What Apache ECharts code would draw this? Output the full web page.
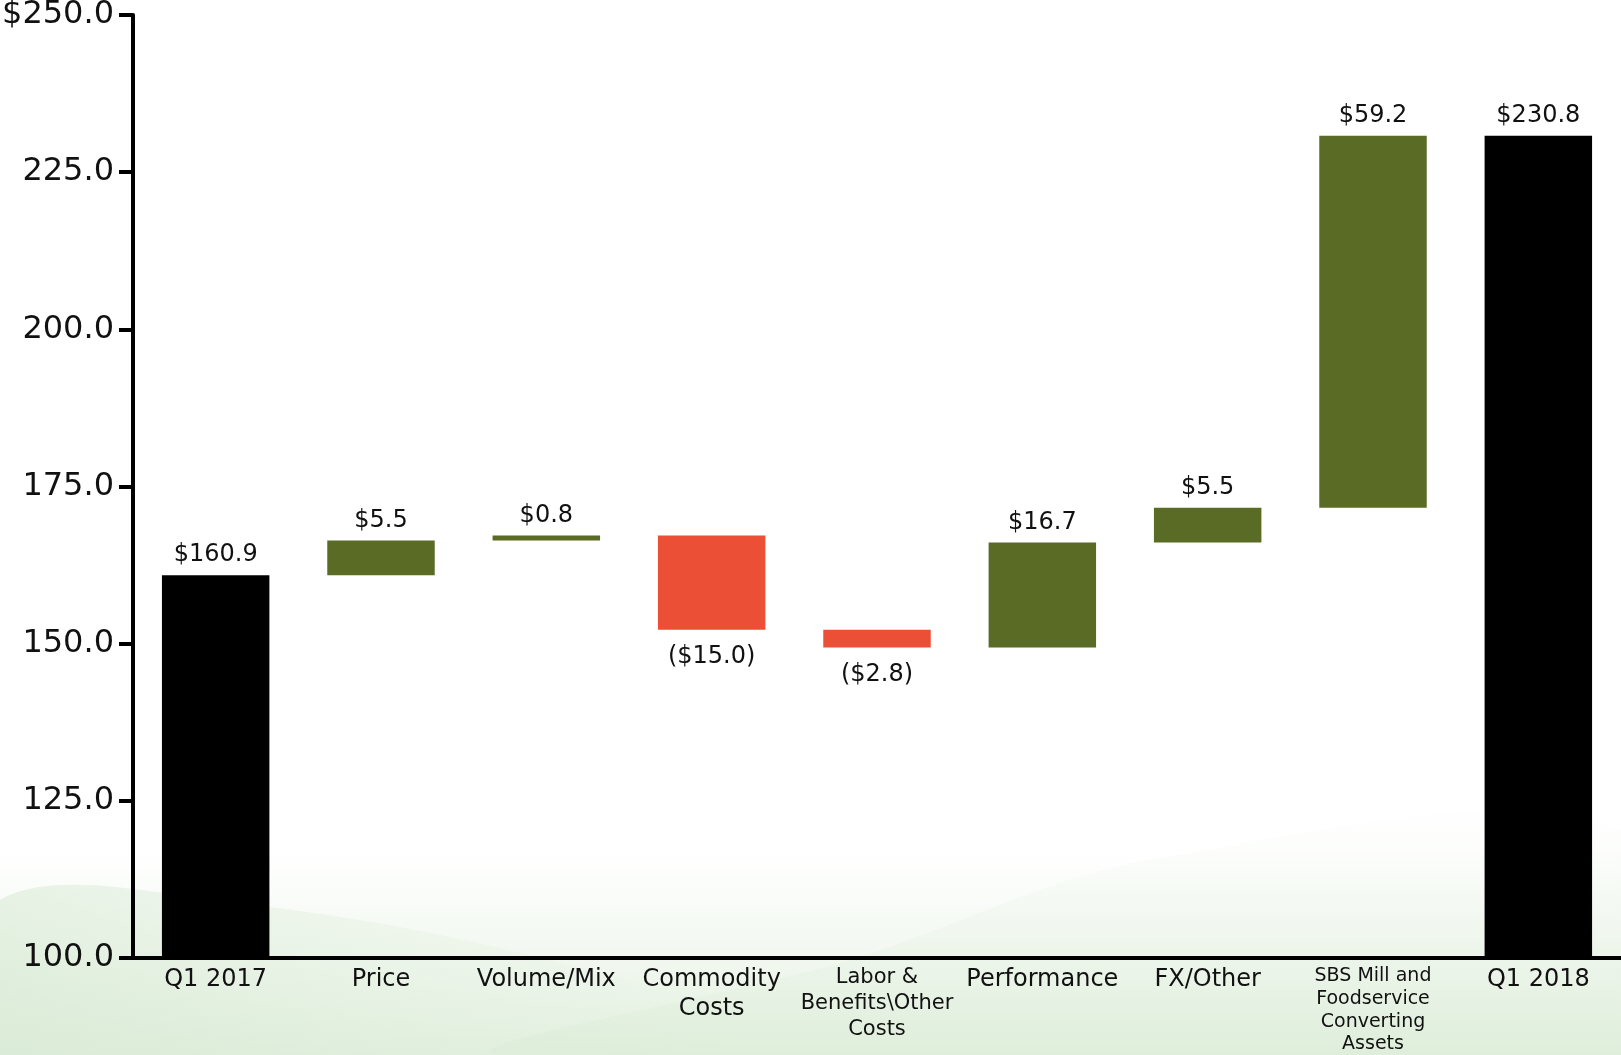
<!DOCTYPE html>
<html>
<head>
<meta charset="utf-8">
<script src="https://cdn.jsdelivr.net/npm/echarts@6/dist/echarts.min.js"></script>
<style>
  html, body { margin: 0; padding: 0; background: #fff; }
  #chart { width: 1621px; height: 1055px; }
</style>
</head>
<body>
<div id="chart"></div>
<script>
var categories = ['Q1 2017', 'Price', 'Volume/Mix', 'Commodity\nCosts', 'Labor &\nBenefits\\Other\nCosts',
  'Performance', 'FX/Other', 'SBS Mill and\nFoodservice\nConverting\nAssets', 'Q1 2018'];
var startTotal = 160.9;
var endTotal = 230.8;
var changes = [null, 5.5, 0.8, -15.0, -2.8, 16.7, 5.5, 59.2, null];
var yTicks = [100, 125, 150, 175, 200, 225, 250];

// build the invisible base + up/down/total series from the changes
var base = [], ups = [], downs = [], totals = [];
var running = startTotal;
changes.forEach(function(c, i) {
  if (i === 0) { base.push('-'); ups.push('-'); downs.push('-'); totals.push(startTotal); return; }
  if (i === changes.length - 1) { base.push('-'); ups.push('-'); downs.push('-'); totals.push(endTotal); return; }
  if (c >= 0) {
    base.push(running); ups.push(c); downs.push('-');
    running += c;
  } else {
    running += c;
    base.push(running); ups.push('-'); downs.push(-c);
  }
  totals.push('-');
});

var FONT = 'DejaVu Sans';
var GREEN = '#596b25';
var RED = '#eb4f36';

function grad(x2, y2, stops) {
  return { type: 'linear', x: 0, y: 0, x2: x2, y2: y2,
    colorStops: stops.map(function(s) { return { offset: s[0], color: s[1] }; }) };
}

var chart = echarts.init(document.getElementById('chart'));

var option = {
  backgroundColor: '#ffffff',
  animation: false,
  graphic: [
    { type: 'rect', z: -10, silent: true,
      shape: { x: 0, y: 850, width: 1621, height: 205 },
      style: { fill: grad(0, 1, [[0, 'rgba(215,233,210,0)'], [1, 'rgba(208,230,203,0.6)']]) } },
    { type: 'polygon', z: -9, silent: true,
      shape: { points: [[0, 900], [250, 905], [550, 960], [850, 1055], [0, 1055]], smooth: 0.35 },
      style: { fill: grad(1, 0, [[0, 'rgba(205,228,200,0.45)'], [1, 'rgba(225,238,220,0)']]) } },
    { type: 'polygon', z: -9, silent: true,
      shape: { points: [[500, 1055], [850, 960], [1150, 860], [1621, 830], [1621, 1055]], smooth: 0.35 },
      style: { fill: grad(0, 1, [[0, 'rgba(225,238,220,0.05)'], [1, 'rgba(212,232,207,0.35)']]) } }
  ],
  grid: { left: 133, right: 0, top: 15, bottom: 97, containLabel: false, outerBoundsMode: 'none' },
  xAxis: {
    type: 'category',
    data: categories,
    axisLine: { lineStyle: { color: '#000', width: 4 } },
    axisTick: { show: false },
    axisLabel: {
      interval: 0,
      margin: 7,
      color: '#111',
      fontFamily: FONT,
      fontSize: 24,
      lineHeight: 29,
      formatter: function(v) {
        var lines = v.split('\n');
        var style = lines.length >= 4 ? 's' : (lines.length === 3 ? 'm' : 'n');
        return lines.map(function(l) { return '{' + style + '|' + l + '}'; }).join('\n');
      },
      rich: {
        n: { fontFamily: FONT, fontSize: 24, lineHeight: 29, color: '#111' },
        m: { fontFamily: FONT, fontSize: 21, lineHeight: 26, color: '#111' },
        s: { fontFamily: FONT, fontSize: 19, lineHeight: 22.7, color: '#111' }
      }
    }
  },
  yAxis: {
    type: 'value',
    min: yTicks[0],
    max: yTicks[yTicks.length - 1],
    interval: 25,
    splitLine: { show: false },
    axisLine: { show: true, lineStyle: { color: '#000', width: 4 } },
    axisTick: { show: true, length: 14, lineStyle: { color: '#000', width: 4 } },
    axisLabel: {
      margin: 19,
      color: '#111',
      fontFamily: FONT,
      fontSize: 32,
      formatter: function(v) {
        return (v === 250 ? '$' : '') + v.toFixed(1);
      }
    }
  },
  series: [
    { name: 'base', type: 'bar', stack: 'w', barWidth: '65%',
      itemStyle: { color: 'transparent' }, data: base, silent: true },
    { name: 'up', type: 'bar', stack: 'w', barWidth: '65%',
      itemStyle: { color: GREEN }, data: ups,
      label: { show: true, position: 'top', distance: 8, fontFamily: FONT, fontSize: 24, color: '#111',
        formatter: function(p) { return '$' + p.value.toFixed(1); } } },
    { name: 'down', type: 'bar', stack: 'w', barWidth: '65%',
      itemStyle: { color: RED }, data: downs,
      label: { show: true, position: 'bottom', distance: 15, fontFamily: FONT, fontSize: 24, color: '#111',
        formatter: function(p) { return '($' + p.value.toFixed(1) + ')'; } } },
    { name: 'total', type: 'bar', stack: 'w', barWidth: '65%',
      itemStyle: { color: '#000' }, data: totals,
      label: { show: true, position: 'top', distance: 8, fontFamily: FONT, fontSize: 24, color: '#111',
        formatter: function(p) { return '$' + p.value.toFixed(1); } } }
  ]
};

chart.setOption(option);
</script>
</body>
</html>
